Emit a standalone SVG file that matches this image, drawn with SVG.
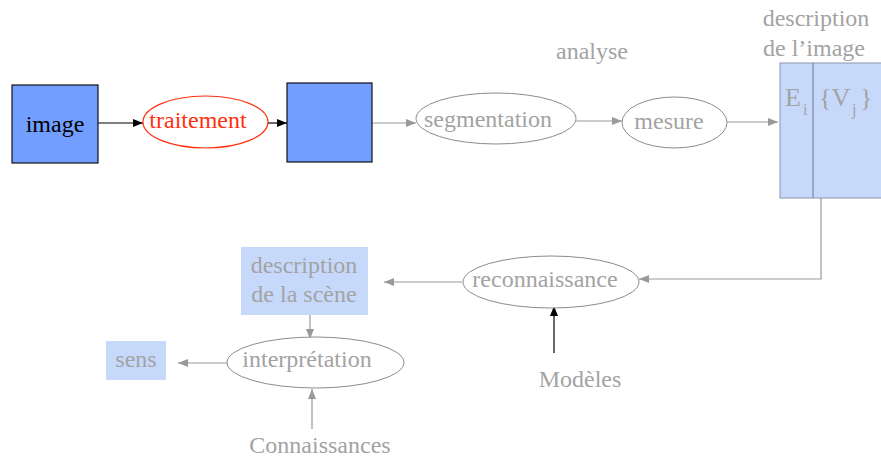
<svg xmlns="http://www.w3.org/2000/svg" width="881" height="459" viewBox="0 0 881 459" font-family="Liberation Serif, Tinos, Times New Roman, DejaVu Serif, serif">
<defs>
<marker id="ab" markerWidth="10" markerHeight="8" refX="10" refY="4" orient="auto" markerUnits="userSpaceOnUse"><path d="M0,0 L10,4 L0,8 Z" fill="#000"/></marker>
<marker id="ag" markerWidth="10" markerHeight="8" refX="10" refY="4" orient="auto" markerUnits="userSpaceOnUse"><path d="M0,0 L10,4 L0,8 Z" fill="#999"/></marker>
</defs>
<style>
text{font-family:"Liberation Serif",Tinos,"Times New Roman","DejaVu Serif",serif;font-size:24px;fill:#a3a3a3;text-anchor:middle}
.st{text-anchor:start}
.big{font-size:26px}
.sub{font-size:16px}
.blk{stroke:#000;stroke-width:1.2;fill:none;marker-end:url(#ab)}
.gry{stroke:#999;stroke-width:1.2;fill:none;marker-end:url(#ag)}
.ell{fill:#fff;stroke:#8c8c8c;stroke-width:1}
.dark{fill:#729fff;stroke:#111;stroke-width:1.2}
.light{fill:#c6d9fb}
</style>
<g id="connectors">
<line class="blk" x1="98" y1="123" x2="143" y2="123"/>
<line class="blk" x1="268" y1="123" x2="287" y2="123"/>
<line class="gry" x1="372" y1="123" x2="416" y2="123"/>
<line class="gry" x1="576" y1="121" x2="622" y2="121"/>
<line class="gry" x1="727" y1="122" x2="778" y2="122"/>
<polyline class="gry" points="821,198 821,279 639,279"/>
<line class="gry" x1="462" y1="282" x2="384" y2="282"/>
<line class="blk" x1="554" y1="353" x2="554" y2="306"/>
<line class="gry" x1="310" y1="299" x2="310" y2="339"/>
<line class="gry" x1="227" y1="363" x2="178" y2="363"/>
<line class="gry" x1="312" y1="429" x2="312" y2="389"/>
</g>
<g id="image"><rect class="dark" x="12" y="85" width="86" height="78"/><text x="55" y="132" style="fill:#000">image</text></g>
<g id="traitement"><ellipse cx="205.5" cy="122" rx="62.5" ry="26" fill="#fff" stroke="#ff3010" stroke-width="1.2"/><text x="198" y="128" style="fill:#ff3010">traitement</text></g>
<g id="result"><rect class="dark" x="287" y="83" width="85" height="79"/></g>
<g id="analyse"><text x="592" y="59">analyse</text></g>
<g id="segmentation"><ellipse class="ell" cx="496" cy="118.5" rx="80" ry="25.5"/><text x="488" y="127">segmentation</text></g>
<g id="mesure"><ellipse class="ell" cx="674.5" cy="122.5" rx="52.5" ry="25.5"/><text x="669" y="129">mesure</text></g>
<g id="description-image">
<text x="816" y="26">description</text>
<text x="814" y="56">de l’image</text>
<rect class="light" x="780" y="63" width="110" height="135" stroke="#8895b0" stroke-width="1"/>
<line x1="813" y1="63" x2="813" y2="198" stroke="#6b7895" stroke-width="1"/>
<text class="st big" x="785" y="106">E</text><text class="st sub" x="803" y="115">i</text>
<text class="st big" x="819" y="106">{V</text><text class="st sub" x="852" y="115">j</text><text class="st big" x="860" y="106">}</text>
</g>
<g id="reconnaissance"><ellipse class="ell" cx="551" cy="282" rx="88" ry="26"/><text x="545" y="287">reconnaissance</text></g>
<g id="modeles"><text x="580" y="387">Modèles</text></g>
<g id="description-scene"><rect class="light" x="241" y="247" width="127" height="68"/><text x="304" y="273">description</text><text x="304" y="302">de la scène</text></g>
<g id="interpretation"><ellipse class="ell" cx="315.5" cy="362.5" rx="88.5" ry="25.5"/><text x="307" y="367">interprétation</text></g>
<g id="sens"><rect class="light" x="106" y="341" width="60" height="39"/><text x="136" y="367">sens</text></g>
<g id="connaissances"><text x="320" y="453">Connaissances</text></g>
</svg>
